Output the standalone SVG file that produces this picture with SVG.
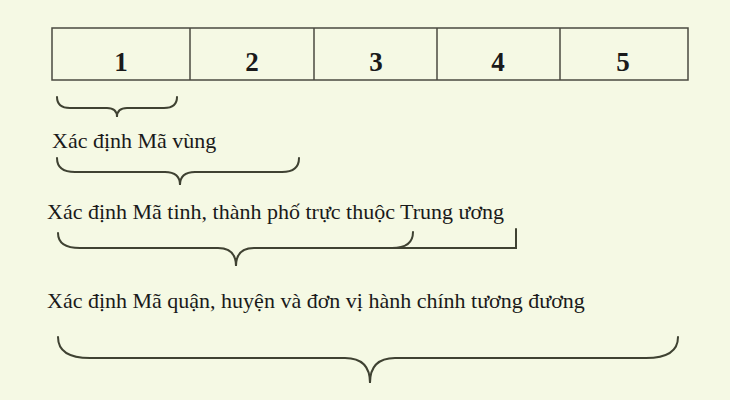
<svg xmlns="http://www.w3.org/2000/svg" width="730" height="400" viewBox="0 0 730 400">
<style>
.bg{fill:#f5f9e4}
.cell{fill:none;stroke:#4a4a40;stroke-width:1.5}
.num{font-family:"Liberation Serif",serif;font-weight:bold;font-size:27px;fill:#1a1a1a;text-anchor:middle}
.lbl{font-family:"Liberation Serif",serif;font-size:22px;fill:#1a1a1a}
.br{fill:none;stroke:#3f4232;stroke-width:2;stroke-linecap:round}
</style>
<rect class="bg" x="0" y="0" width="730" height="400"/>
<g id="cells">
<rect class="cell" x="52" y="28" width="636" height="52"/>
<line class="cell" x1="190" y1="28" x2="190" y2="80"/>
<line class="cell" x1="314" y1="28" x2="314" y2="80"/>
<line class="cell" x1="437" y1="28" x2="437" y2="80"/>
<line class="cell" x1="560" y1="28" x2="560" y2="80"/>
<text class="num" x="121" y="71">1</text>
<text class="num" x="252" y="71">2</text>
<text class="num" x="376" y="71">3</text>
<text class="num" x="498" y="71">4</text>
<text class="num" x="623" y="71">5</text>
</g>
<g id="connectors">
<path class="br" d="M57,97 Q57,108 70,108 L107,108 Q117,108 117,117 Q117,108 127,108 L164,108 Q177,108 177,97"/>
<path class="br" d="M57,158 Q57,172 75,172 L165,172 Q180,172 180,185 Q180,172 195,172 L282,172 Q299,172 299,158"/>
<path class="br" d="M58,233 Q58,248 80,248 L218,248 Q236,248 236,266 Q236,248 254,248 L392,248 Q413,248 413,232"/>
<path class="br" d="M390,248 L516,248 L516,229"/>
<path class="br" d="M58,337 Q58,358 90,358 L345,358 Q370,358 370,383 Q370,358 395,358 L646,358 Q678,358 678,337"/>
</g>
<g id="labels">
<text class="lbl" x="52" y="148">Xác định Mã vùng</text>
<text class="lbl" x="47" y="219">Xác định Mã tinh, thành phố trực thuộc Trung ương</text>
<text class="lbl" x="47" y="308">Xác định Mã quận, huyện và đơn vị hành chính tương đương</text>
</g>
</svg>
